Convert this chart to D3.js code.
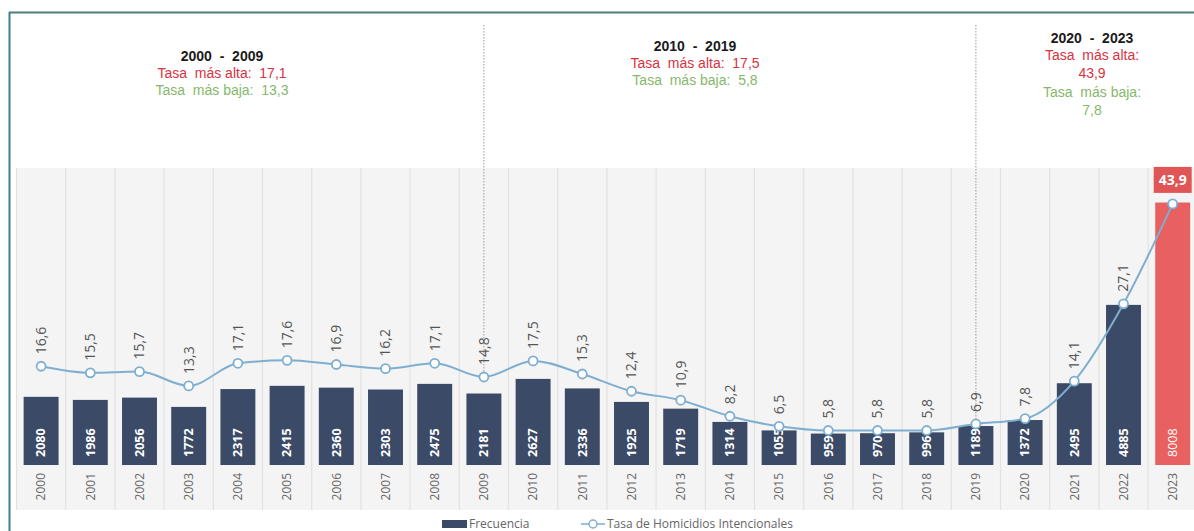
<!DOCTYPE html>
<html>
<head>
<meta charset="utf-8">
<script src="https://cdn.jsdelivr.net/npm/d3@7"></script>
<style>
  body { margin: 0; background: #fff; }
  svg { display: block; }
</style>
</head>
<body>
<svg id="chart" width="1194" height="531"></svg>
<script>
// data
const years = ["2000","2001","2002","2003","2004","2005","2006","2007","2008","2009",
  "2010","2011","2012","2013","2014","2015","2016","2017","2018","2019",
  "2020","2021","2022","2023"];
const frecuencia = [2080,1986,2056,1772,2317,2415,2360,2303,2475,2181,
  2627,2336,1925,1719,1314,1055,959,970,996,1189,
  1372,2495,4885,8008];
const tasa = [16.6,15.5,15.7,13.3,17.1,17.6,16.9,16.2,17.1,14.8,
  17.5,15.3,12.4,10.9,8.2,6.5,5.8,5.8,5.8,6.9,
  7.8,14.1,27.1,43.9];

const periodos = ["2000  -  2009", "2010  -  2019", "2020  -  2023"];
const tasaAlta = ["17,1", "17,5", "43,9"];
const tasaBaja = ["13,3", "5,8", "7,8"];
const cortes = ["2009", "2019"];

const fmt = v => String(v).replace(".", ",");
const nb = s => s.replace(/ /g, "\u00a0");

const svg = d3.select("#chart");
const W = 1194, H = 531;

let x = d3.scaleBand()
  .domain(years)
  .range([16.5, 16.5 + 24 * 49.2])
  .paddingInner(0.29)
  .paddingOuter(0.145);

let col = d3.scaleBand()
  .domain(years)
  .range([16.5, 16.5 + 24 * 49.2]);

let yBar = d3.scaleLinear().domain([0, 9000]).range([465, 170]);
let yRate = d3.scaleLinear().domain([0, 49.6]).range([465, 170]);

const cx = d => x(d) + x.bandwidth() / 2;

// frame
svg.append("line")
  .attr("x1", 9.5).attr("x2", 9.5).attr("y1", 12).attr("y2", H)
  .attr("stroke", "#3f7d97").attr("stroke-width", 2);
svg.append("line")
  .attr("x1", 9).attr("x2", W).attr("y1", 12.5).attr("y2", 12.5)
  .attr("stroke", "#4f7f78").attr("stroke-width", 2);

// gray columns
svg.append("rect")
  .attr("x", col.range()[0]).attr("y", 168)
  .attr("width", col.range()[1] - col.range()[0]).attr("height", 342)
  .attr("fill", "#f4f4f4");

svg.selectAll(".sep")
  .data(years)
  .join("line")
  .attr("class", "sep")
  .attr("x1", d => col(d)).attr("x2", d => col(d))
  .attr("y1", 168).attr("y2", 510)
  .attr("stroke", "#e2e2e2")
  .attr("stroke-width", 1.2);

// period dividers
svg.selectAll(".corte")
  .data(cortes)
  .join("line")
  .attr("class", "corte")
  .attr("x1", d => cx(d)).attr("x2", d => cx(d))
  .attr("y1", 25)
  .attr("y2", d => yRate(tasa[years.indexOf(d)]) - 5)
  .attr("stroke", "#9a9a9a")
  .attr("stroke-width", 1)
  .attr("stroke-dasharray", "1.5,1.5");

// header texts
const headX = [222, 695, 1092];
const headY = [61, 51, 43];
periodos.forEach((p, i) => {
  let g = svg.append("g")
    .attr("font-family", "'Liberation Sans', Arial, sans-serif")
    .attr("text-anchor", "middle")
    .attr("font-size", 14);
  g.append("text")
    .attr("x", headX[i]).attr("y", headY[i])
    .attr("font-weight", "bold")
    .attr("fill", "#1a1a1a")
    .text(nb(p));
  if (i < 2) {
    g.append("text")
      .attr("x", headX[i]).attr("y", headY[i] + 17)
      .attr("fill", "#d8323f")
      .text(nb("Tasa  más alta:  " + tasaAlta[i]));
    g.append("text")
      .attr("x", headX[i]).attr("y", headY[i] + 34)
      .attr("fill", "#86b86c")
      .text(nb("Tasa  más baja:  " + tasaBaja[i]));
  } else {
    g.append("text")
      .attr("x", headX[i]).attr("y", headY[i] + 17)
      .attr("fill", "#d8323f")
      .text(nb("Tasa  más alta:"));
    g.append("text")
      .attr("x", headX[i]).attr("y", headY[i] + 35)
      .attr("fill", "#d8323f")
      .text(tasaAlta[i]);
    g.append("text")
      .attr("x", headX[i]).attr("y", headY[i] + 54)
      .attr("fill", "#86b86c")
      .text(nb("Tasa  más baja:"));
    g.append("text")
      .attr("x", headX[i]).attr("y", headY[i] + 72)
      .attr("fill", "#86b86c")
      .text(tasaBaja[i]);
  }
});

// rate labels (under the bars, like the original)
const last = years.length - 1;
svg.selectAll(".rlab")
  .data(years.slice(0, last))
  .join("text")
  .attr("class", "rlab")
  .attr("transform", (d, i) => `translate(${cx(d)},${yRate(tasa[i]) - 12}) rotate(-90)`)
  .attr("dy", "0.35em")
  .attr("font-family", "'Open Sans', sans-serif")
  .attr("font-size", 14)
  .attr("fill", "#555")
  .text((d, i) => fmt(tasa[i]));

// bars
svg.selectAll(".bar")
  .data(years)
  .join("rect")
  .attr("class", "bar")
  .attr("x", d => x(d))
  .attr("width", x.bandwidth())
  .attr("y", (d, i) => yBar(frecuencia[i]))
  .attr("height", (d, i) => yBar(0) - yBar(frecuencia[i]))
  .attr("fill", (d, i) => i == last ? "#e8605f" : "#3b4a66");

svg.selectAll(".blab")
  .data(years)
  .join("text")
  .attr("class", "blab")
  .attr("transform", d => `translate(${cx(d)},457) rotate(-90)`)
  .attr("dy", "0.35em")
  .attr("font-family", "'Open Sans', sans-serif")
  .attr("font-size", 12.5)
  .attr("font-weight", (d, i) => i == last ? "normal" : "bold")
  .attr("fill", "#fff")
  .text((d, i) => frecuencia[i]);

// year labels
svg.selectAll(".ylab")
  .data(years)
  .join("text")
  .attr("class", "ylab")
  .attr("transform", d => `translate(${cx(d)},473) rotate(-90)`)
  .attr("dy", "0.35em")
  .attr("text-anchor", "end")
  .attr("font-family", "'Open Sans', sans-serif")
  .attr("font-size", 12)
  .attr("fill", "#666")
  .text(d => d);

// line
let line = d3.line()
  .x(d => cx(d))
  .y((d, i) => yRate(tasa[i]))
  .curve(d3.curveMonotoneX);

svg.append("path")
  .datum(years)
  .attr("d", line)
  .attr("fill", "none")
  .attr("stroke", "#7eafd1")
  .attr("stroke-width", 2);

svg.selectAll(".pt")
  .data(years)
  .join("circle")
  .attr("class", "pt")
  .attr("cx", d => cx(d))
  .attr("cy", (d, i) => yRate(tasa[i]))
  .attr("r", 4.5)
  .attr("fill", "#fff")
  .attr("stroke", "#7eafd1")
  .attr("stroke-width", 1.8);

// highlighted last value
let bx = cx(years[last]);
let by = yRate(tasa[last]) - 11;
svg.append("rect")
  .attr("x", bx - 19).attr("y", by - 26)
  .attr("width", 38).attr("height", 26)
  .attr("fill", "#e05656");
svg.append("text")
  .attr("x", bx).attr("y", by - 8)
  .attr("text-anchor", "middle")
  .attr("font-family", "'Open Sans', sans-serif")
  .attr("font-size", 14).attr("font-weight", "bold")
  .attr("fill", "#fff")
  .text(fmt(tasa[last]));

// legend
let lg = svg.append("g")
  .attr("font-family", "'Open Sans', sans-serif")
  .attr("font-size", 12)
  .attr("fill", "#666");
lg.append("rect")
  .attr("x", 442).attr("y", 520).attr("width", 25).attr("height", 8)
  .attr("fill", "#3b4a66");
lg.append("text").attr("x", 469).attr("y", 528).text("Frecuencia");
lg.append("line")
  .attr("x1", 581).attr("x2", 605).attr("y1", 524).attr("y2", 524)
  .attr("stroke", "#7eafd1").attr("stroke-width", 1.5);
lg.append("circle")
  .attr("cx", 593).attr("cy", 524).attr("r", 4)
  .attr("fill", "#fff").attr("stroke", "#7eafd1").attr("stroke-width", 1.5);
lg.append("text").attr("x", 607).attr("y", 528).text("Tasa de Homicidios Intencionales");
</script>
</body>
</html>
